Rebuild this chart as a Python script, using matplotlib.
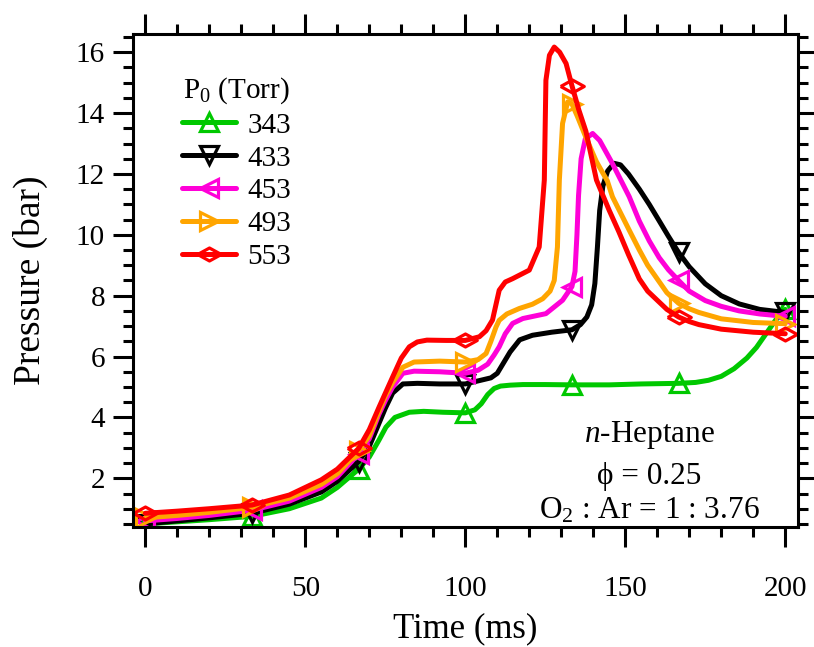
import numpy as np
import matplotlib
matplotlib.use("Agg")
import matplotlib.pyplot as plt
from matplotlib.ticker import MultipleLocator

plt.rcParams['font.family'] = ['Liberation Serif', 'DejaVu Serif']
plt.rcParams['mathtext.fontset'] = 'custom'
plt.rcParams['mathtext.rm'] = 'Liberation Serif'
plt.rcParams['mathtext.it'] = 'Liberation Serif:italic'

T3 = 100 / 3
T6 = 200 / 3
T13 = 400 / 3
T16 = 500 / 3
marker_times = [0, T3, T6, 100, T13, T16, 200]

# --- 343 Torr
t_343 = [0, 10, 20, T3, 45, 55, 60, T6, 70, 73, 75.2, 78, 82.5, 87, 93, 100,
         103, 105, 107, 109, 111, 114, 118, 125, T13, 145, 155, T16,
         172, 176, 180, 184, 188, 191, 194, 197, 200]
p_343 = [0.5, 0.57, 0.64, 0.75, 1.0, 1.35, 1.7, 2.3, 2.7, 3.25, 3.68, 4.0, 4.17, 4.2, 4.17, 4.15,
         4.25, 4.45, 4.75, 4.95, 5.03, 5.06, 5.08, 5.08, 5.07, 5.07, 5.1, 5.12,
         5.15, 5.22, 5.35, 5.6, 5.95, 6.3, 6.75, 7.2, 7.55]

# --- 433 Torr
t_433 = [0, 10, 20, T3, 45, 55, 60, T6, 70, 73, 75, 77.3, 80.5, 85, 92, 100,
         104, 108, 110, 112, 114, 117, 121, 127, T13, 136, 138, 139.5, 140.5, 141.3,
         142, 143, 144.5, 146.5, 148.5, 151, 154.4, 157.5, 160.6, 163.5, T16, 170, 175,
         180, 185.6, 192, 200]
p_433 = [0.5, 0.6, 0.7, 0.85, 1.15, 1.55, 1.9, 2.55, 3.05, 3.8, 4.3, 4.8, 5.1, 5.12, 5.1, 5.1,
         5.2, 5.3, 5.45, 5.8, 6.15, 6.55, 6.7, 6.8, 6.88, 7.05, 7.3, 7.7, 8.4, 9.6,
         10.8, 11.6, 12.1, 12.35, 12.3, 12.0, 11.5, 11.0, 10.46, 9.95, 9.42, 8.95, 8.39,
         8.0, 7.73, 7.55, 7.45]

# --- 453 Torr
t_453 = [0, 10, 20, T3, 45, 55, 60, T6, 70, 73, 75, 77.3, 80.5, 84, 92, 100,
         104, 107, 109, 110.6, 112.5, 114.8, 118, 125.2, 130.4, T13, 134.3, 134.9, 135.4,
         136.2, 137.5, 139.8, 142, 146, 151.25, 154.4, 157.5, 160.6, 163.5, T16, 170, 175,
         180, 185.6, 192, 200]
p_453 = [0.6, 0.68, 0.78, 0.95, 1.25, 1.7, 2.05, 2.8, 3.3, 4.1, 4.55, 5.0, 5.45, 5.52, 5.5, 5.45,
         5.55, 5.75, 6.05, 6.32, 6.75, 7.09, 7.25, 7.41, 7.85, 8.3, 8.8, 10.0, 11.3,
         12.5, 13.15, 13.33, 13.1, 12.34, 11.25, 10.45, 9.8, 9.25, 8.85, 8.5, 8.15, 7.84,
         7.65, 7.5, 7.4, 7.32]

# --- 493 Torr
t_493 = [0, 10, 20, T3, 45, 55, 60, T6, 70, 73, 75, 77.3, 80.5, 84, 92, 100,
         104, 106.5, 108, 109.6, 110.6, 113, 116.9, 121, 124.2, 126.5, 127.8, 128.8, 129.4,
         130.4, 132, T13, 135, 137.7, 141, 144.4, 146, 151.25, 154.4, 157, 160, 163, T16,
         170, 173, 180, 190, 200]
p_493 = [0.7, 0.78, 0.88, 1.05, 1.35, 1.8, 2.15, 2.9, 3.4, 4.2, 4.7, 5.15, 5.65, 5.82, 5.85, 5.82,
         5.9, 6.1, 6.5, 6.97, 7.19, 7.4, 7.58, 7.72, 7.9, 8.15, 8.5, 9.6, 11.8,
         13.66, 14.37, 14.3, 13.9, 13.2, 12.4, 11.77, 11.25, 10.15, 9.5, 9.0, 8.55, 8.1, 7.75,
         7.57, 7.45, 7.24, 7.12, 7.08]

# --- 553 Torr
t_553 = [0, 10, 20, T3, 45, 55, 60, T6, 70, 73.1, 77.3, 80, 82.5, 85, 88, 94, 100,
         104.4, 106.5, 108.5, 110.6, 112.5, 114.8, 120, 123.1, 124.7, 125.2, 126.3, 127.8,
         129.5, 131.5, T13, 135.5, 137.7, 141, 143, 145, 148, 151, 154.4, 157, 160, 163, T16,
         170, 173, 180, 190, 200]
p_553 = [0.85, 0.92, 1.0, 1.12, 1.45, 1.95, 2.3, 2.98, 3.6, 4.35, 5.33, 5.95, 6.32, 6.48, 6.54, 6.53, 6.53,
         6.65, 6.85, 7.2, 8.18, 8.45, 8.56, 8.84, 9.6, 11.8, 15.08, 15.9, 16.17,
         16.0, 15.63, 14.9, 14.1, 13.4, 11.8, 11.3, 10.8, 10.1, 9.35, 8.55, 8.15, 7.85, 7.55, 7.3,
         7.15, 7.05, 6.9, 6.8, 6.75]

labels = ['343', '433', '453', '493', '553']
colors = ['#00c800', '#000000', '#ff00d8', '#ffa500', '#ff0000']
flat_diamond = [(-1, 0), (0, 0.55), (1, 0), (0, -0.55), (-1, 0)]
markers = ['^', 'v', '<', '>', flat_diamond]
series = [(t_343, p_343), (t_433, p_433), (t_453, p_453), (t_493, p_493), (t_553, p_553)]

fig = plt.figure(figsize=(8.14, 6.47), dpi=100)
ax = fig.add_axes([0.164, 0.1855, 0.816, 0.762])

for (t, p), lab, c, m in zip(series, labels, colors, markers):
    t = np.array(t)
    idx = [int(np.argmin(np.abs(t - mt))) for mt in marker_times]
    ms = 17 if isinstance(m, list) else 13
    ax.plot(t, p, color=c, lw=3.6, label=lab, marker=m, markevery=idx,
            markersize=ms, markerfacecolor='none', markeredgewidth=2.3,
            solid_capstyle='round', solid_joinstyle='round')

ax.set_xlim(-3.7, 203.9)
ax.set_ylim(0.4, 16.6)
ax.xaxis.set_major_locator(MultipleLocator(50))
ax.xaxis.set_minor_locator(MultipleLocator(10))
ax.yaxis.set_major_locator(MultipleLocator(2))
ax.yaxis.set_minor_locator(MultipleLocator(0.5))
ax.tick_params(which='both', direction='out', top=True, right=True, width=2.2, labelsize=21)
ax.tick_params(which='major', length=14.5, pad=6)
ax.tick_params(which='minor', length=7.5)
ax.tick_params(axis='x', which='major', pad=21)
for s in ax.spines.values():
    s.set_linewidth(2.2)

ax.set_xlabel('Time (ms)', fontsize=25, labelpad=7)
ax.set_ylabel('Pressure (bar)', fontsize=27, labelpad=20)

leg = ax.legend(title='P$_0$ (Torr)', loc='upper left', bbox_to_anchor=(0.055, 0.94),
                frameon=False, fontsize=21, title_fontsize=21, handlelength=1.85,
                handletextpad=0.4, labelspacing=0.22, borderaxespad=0)

ax.text(0.777, 0.186, '$\\mathit{n}$-Heptane', transform=ax.transAxes, ha='center', va='center', fontsize=22.5)
ax.text(0.777, 0.103, '\u03d5 = 0.25', transform=ax.transAxes, ha='center', va='center', fontsize=22.5)
ax.text(0.777, 0.033, 'O$_2$ : Ar = 1 : 3.76', transform=ax.transAxes, ha='center', va='center', fontsize=22.5)

fig.savefig('out.png', dpi=100)
